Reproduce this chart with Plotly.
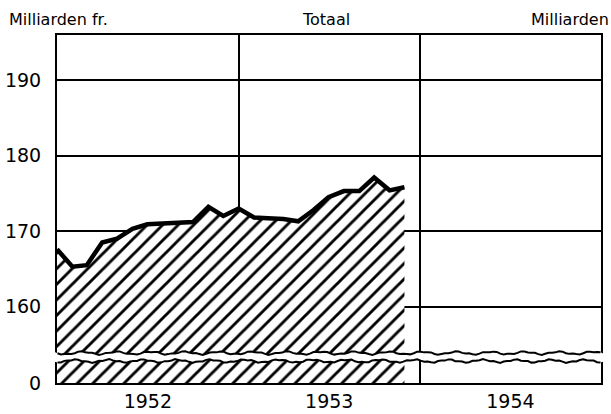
import numpy as np
import plotly.graph_objects as go

# Monthly totals (milliarden fr.), Jan 1952 .. Dec 1953
months = [f"{y}-{m:02d}-01" for y in (1952, 1953) for m in range(1, 13)]
values = [167.6, 165.3, 165.5, 168.5, 169.0, 170.3, 170.9, 171.0, 171.1, 171.2, 173.2, 172.0,
          173.0, 171.8, 171.7, 171.6, 171.3, 172.8, 174.5, 175.3, 175.3, 177.1, 175.4, 175.8]
upper_ticks = [160, 170, 180, 190]
lower_ticks = [0]
year_labels = ["1952", "1953", "1954"]

W, H = 611, 414
ML, MR, MT, MB = 57, 10, 35, 31
PW, PH = W - ML - MR, H - MT - MB
split_px = 357  # pixel row of the break

def yp(py):
    return (H - MB - py) / PH

def xp(px):
    return (px - ML) / PW

split = yp(split_px)
ppu = 7.556
up_lo = 160 - (split_px - 306.7) / ppu
up_hi = 190 + (80 - MT) / ppu

pattern = dict(shape="/", fgcolor="black", bgcolor="white", size=11, solidity=0.26, fgopacity=1)
fig = go.Figure()
fig.add_trace(go.Scatter(x=months, y=values, xaxis="x", yaxis="y", mode="lines",
                         line=dict(width=0, color="black"), fill="tozeroy",
                         fillcolor="white", fillpattern=pattern, hoverinfo="skip"))
fig.add_trace(go.Scatter(x=months, y=values, xaxis="x2", yaxis="y2", mode="lines",
                         line=dict(width=0, color="black"), fill="tozeroy",
                         fillcolor="white", fillpattern=pattern, hoverinfo="skip"))
fig.add_trace(go.Scatter(x=months, y=values, xaxis="x2", yaxis="y2", mode="lines",
                         line=dict(width=4.5, color="black")))

FONT = "DejaVu Sans, sans-serif"
xcommon = dict(type="date", range=["1952-01-01", "1955-01-01"], dtick="M12",
               tick0="1952-01-01", showgrid=True, gridcolor="black", gridwidth=2,
               showline=True, linecolor="black", linewidth=2, mirror=True,
               zeroline=False, ticks="", automargin=False)
fig.update_layout(
    width=W, height=H, margin=dict(l=ML, r=MR, t=MT, b=MB, autoexpand=False),
    paper_bgcolor="white", plot_bgcolor="white", showlegend=False,
    font=dict(size=18, family=FONT, color="black"),
    xaxis=dict(**xcommon, anchor="y", ticklabelmode="period", tickformat="%Y",
               tickfont=dict(size=19)),
    xaxis2=dict(**xcommon, anchor="y2", matches="x", showticklabels=False),
    yaxis=dict(domain=[0, split], range=[0, 3.2], tickvals=lower_ticks,
               showgrid=False, zeroline=False, showline=True, linecolor="black",
               linewidth=2, mirror=True, ticks="", ticklabelstandoff=10,
               automargin=False, tickfont=dict(size=19)),
    yaxis2=dict(domain=[split, 1], range=[up_lo, up_hi], tickvals=upper_ticks,
                showgrid=True, gridcolor="black", gridwidth=1.5, zeroline=False,
                showline=True, linecolor="black", linewidth=2, mirror=True,
                ticks="", ticklabelstandoff=10, anchor="x2", automargin=False,
                tickfont=dict(size=19)),
)

# wavy scale break (decoration)
xs = np.linspace(ML - 3, W - MR + 3, 160)
wave_u = 353 + 1.3 * np.sin((xs - ML) / 34 * 2 * np.pi) + 0.6 * np.sin((xs - ML) / 13 * 2 * np.pi)
wave_l = 361 + 1.3 * np.sin((xs - ML + 8) / 34 * 2 * np.pi) + 0.6 * np.sin((xs - ML) / 11 * 2 * np.pi)

def path(px, py):
    return "M " + " L ".join(f"{xp(a):.5f},{yp(b):.5f}" for a, b in zip(px, py))

band = path(np.concatenate([xs, xs[::-1]]), np.concatenate([wave_u, wave_l[::-1]])) + " Z"
fig.add_shape(type="path", path=band, xref="paper", yref="paper",
              fillcolor="white", line=dict(width=0), layer="above")
inner = (xs >= ML) & (xs <= W - MR)
for wv in (wave_u, wave_l):
    fig.add_shape(type="path", path=path(xs[inner], wv[inner]), xref="paper", yref="paper",
                  line=dict(color="black", width=2), layer="above")

# header texts
hy = 1 + (MT - 20) / PH
for txt, px in (("Milliarden fr.", 7), ("Totaal", 300), ("Milliarden", 529)):
    fig.add_annotation(text=txt, xref="paper", yref="paper", x=xp(px), y=hy,
                       xanchor="left", yanchor="middle", showarrow=False,
                       font=dict(size=16, family=FONT))

fig.write_html("out.html", config={"displayModeBar": False},
               post_script="document.body.style.margin='0px';document.body.style.overflow='hidden';")
